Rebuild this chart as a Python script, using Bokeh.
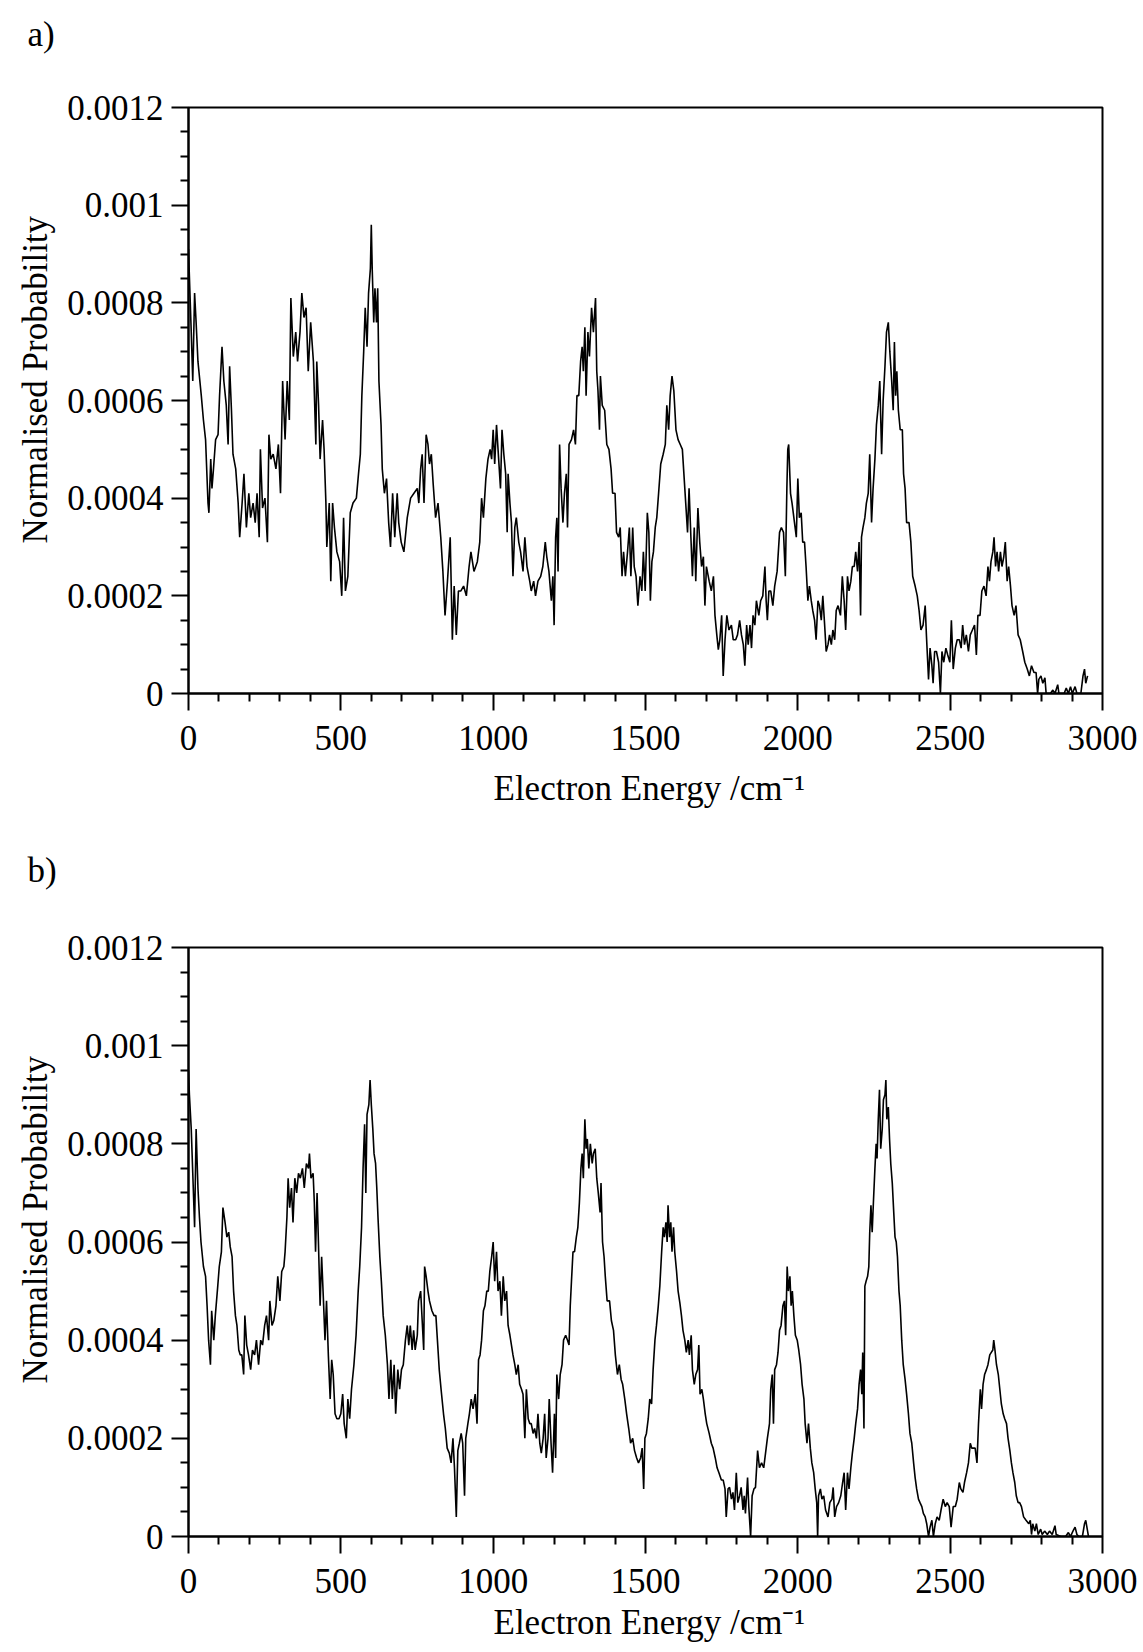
from bokeh.plotting import figure
from bokeh.layouts import column
from bokeh.models import Range1d, FixedTicker, CustomJSTickFormatter, Title
from bokeh.embed import file_html
from bokeh.resources import INLINE

# ---------------- data (probability values in units of 1e-4) ----------------
energy_a = [
    0, 1, 9, 14, 20, 25, 31, 42, 49, 56,
    64, 67, 73, 77, 82, 89, 97, 102, 110, 116,
    124, 130, 135, 141, 146, 155, 163, 168, 176, 182,
    190, 198, 204, 212, 219, 225, 232, 236, 243, 251,
    259, 264, 270, 278, 287, 295, 302, 309, 317, 324,
    331, 336, 344, 352, 358, 366, 372, 379, 386, 393,
    401, 410, 418, 421, 427, 432, 440, 445, 451, 454,
    462, 467, 473, 479, 487, 496, 503, 509, 515, 523,
    531, 540, 551, 558, 564, 569, 575, 580, 586, 591,
    597, 600, 603, 608, 612, 617, 621, 625, 632, 636,
    643, 650, 657, 663, 670, 677, 685, 690, 698, 707,
    718, 729, 740, 751, 756, 762, 767, 773, 780, 786,
    791, 797, 803, 811, 819, 828, 835, 842, 850, 859,
    866, 872, 879, 886, 894, 903, 912, 921, 927, 937,
    948, 956, 962, 968, 976, 983, 990,
    995, 1000, 1005, 1011, 1016, 1024, 1029, 1035, 1041, 1046,
    1049, 1055, 1060, 1065, 1071, 1076, 1084, 1090, 1098, 1104,
    1111, 1120, 1125, 1133, 1139, 1147, 1156, 1163, 1171, 1176,
    1183, 1191, 1196, 1200, 1205, 1209, 1213, 1218, 1223, 1229,
    1234, 1240, 1244, 1249, 1257, 1264, 1270, 1275, 1281, 1287,
    1292, 1296, 1301, 1305, 1311, 1316, 1323, 1329, 1336, 1340,
    1344, 1349, 1352, 1358, 1366, 1373, 1380, 1387, 1392, 1400,
    1405, 1412, 1417, 1423, 1428, 1434, 1441, 1447, 1452, 1458,
    1463, 1469, 1475, 1482, 1488, 1493, 1499, 1506, 1511, 1516,
    1521, 1526, 1532, 1537, 1543, 1550, 1558, 1565, 1570, 1576,
    1581, 1587, 1593, 1600, 1607, 1614, 1621, 1627, 1632, 1638,
    1643, 1649, 1654, 1660, 1665, 1672, 1678, 1684, 1690, 1695,
    1700, 1709, 1716, 1723, 1728, 1734, 1739, 1744, 1750, 1755,
    1761, 1767, 1774, 1782, 1788, 1796, 1802, 1809, 1815, 1821,
    1826, 1832, 1837, 1843, 1848, 1853, 1859, 1864, 1872, 1878,
    1885, 1892, 1896, 1900, 1905, 1911, 1918, 1924, 1932, 1940,
    1946, 1953, 1959, 1964,
    1967, 1970, 1976, 1981, 1989, 1995, 2000, 2005, 2011, 2016,
    2022, 2027, 2033, 2038, 2044, 2049, 2055, 2060, 2066, 2071,
    2077, 2082, 2088, 2093, 2099, 2104, 2110, 2115, 2121, 2126,
    2132, 2140, 2146, 2152, 2157, 2163, 2168, 2174, 2179, 2185,
    2190, 2196, 2201, 2206, 2209, 2214, 2220, 2225, 2231, 2236,
    2242, 2247, 2253, 2258, 2264, 2269, 2275, 2280, 2286, 2291,
    2297, 2302, 2308, 2313, 2317, 2321, 2325, 2330, 2336, 2343,
    2347, 2352, 2357, 2365, 2371, 2377, 2385, 2392, 2398, 2404,
    2411, 2418, 2422, 2429, 2434, 2440, 2444, 2449, 2455, 2462,
    2468, 2473, 2479, 2486, 2492, 2499, 2504, 2510, 2517, 2523,
    2530, 2536, 2541, 2547, 2553, 2560, 2566, 2573, 2580, 2586,
    2591, 2598, 2604, 2611, 2618, 2624, 2629, 2634, 2640, 2644,
    2649, 2654, 2659, 2665, 2670, 2676, 2681, 2687, 2692, 2698,
    2703, 2710, 2716, 2723, 2730, 2738, 2745, 2753, 2760, 2767,
    2775, 2782, 2787, 2791, 2798, 2804, 2811, 2815, 2829, 2837,
    2844, 2853, 2857, 2874, 2881, 2888, 2895, 2901, 2910, 2916,
    2929, 2936, 2941, 2945, 2951,
]
prob_a_e4 = [
    9.1, 8.9, 7.4, 6.4, 8.2, 7.6, 6.8, 6.1, 5.6, 5.2,
    3.9, 3.7, 4.8, 4.2, 4.6, 5.2, 5.3, 6.1, 7.1, 6.4,
    5.9, 5.1, 6.7, 5.8, 4.9, 4.6, 3.9, 3.2, 3.9, 4.5,
    3.4, 4.1, 3.6, 3.9, 3.5, 4.1, 3.2, 5.0, 3.8, 4.0,
    3.1, 5.3, 4.8, 4.9, 4.6, 5.1, 4.1, 6.4, 5.2, 6.4,
    5.6, 8.1, 6.9, 7.4, 6.8, 7.4, 8.2, 7.7, 7.9, 6.6,
    7.6, 6.8, 5.1, 6.8, 5.9, 4.8, 5.6, 5.0, 3.9, 3.0,
    3.9, 2.3, 3.9, 3.4, 2.9, 2.7, 2.0, 3.6, 2.1, 2.4,
    3.7, 3.9, 4.0, 4.5, 4.9, 6.1, 7.0, 7.9, 7.1, 8.2,
    8.7, 9.6, 8.7, 7.6, 8.3, 7.6, 8.3, 6.4, 5.5, 4.6,
    4.1, 4.4, 3.5, 3.0, 4.1, 3.2, 4.1, 3.5, 3.1, 2.9,
    3.6, 4.0, 4.1, 4.2, 3.9, 4.6, 4.9, 3.9, 5.3, 5.1,
    4.7, 4.9, 4.3, 3.6, 3.9, 3.2, 2.5, 1.6, 2.3, 3.2,
    1.1, 2.2, 1.2, 2.1, 2.1, 2.2, 2.0, 2.6, 2.9, 2.5,
    2.7, 3.1, 4.0, 3.6, 4.4, 4.8, 5.0,
    4.8, 5.4, 4.7, 5.5, 5.0, 4.2, 5.4, 4.9, 4.5, 3.3,
    4.5, 3.9, 3.5, 2.4, 3.4, 3.6, 3.1, 2.9, 2.5, 3.2,
    2.6, 2.3, 2.1, 2.3, 2.0, 2.3, 2.4, 2.6, 3.1, 2.8,
    2.5, 1.9, 2.4, 1.4, 3.2, 3.6, 2.5, 5.1, 4.2, 3.5,
    4.1, 4.5, 3.4, 5.1, 5.2, 5.4, 5.1, 6.1, 6.1, 6.8,
    7.1, 6.6, 7.5, 6.1, 7.4, 6.9, 7.9, 7.4, 8.1, 6.6,
    6.2, 5.4, 6.5, 5.9, 5.8, 5.1, 5.0, 4.6, 4.1, 4.1,
    3.3, 3.2, 3.4, 2.4, 2.9, 2.4, 2.9, 3.4, 2.4, 3.4,
    2.6, 2.4, 1.8, 2.4, 2.1, 2.9, 2.1, 3.7, 3.3, 1.9,
    2.7, 2.9, 3.4, 3.6, 4.1, 4.7, 4.9, 5.1, 5.9, 5.4,
    6.1, 6.5, 6.2, 5.4, 5.2, 5.1, 5.0, 4.4, 3.9, 3.3,
    4.2, 3.2, 2.4, 3.4, 2.3, 3.8, 3.1, 2.6, 2.8, 1.8,
    2.6, 2.3, 2.1, 2.4, 1.6, 1.2, 0.9, 1.1, 1.6, 0.36,
    1.1, 1.6, 1.3, 1.4, 1.1, 1.1, 1.2, 1.5, 1.2, 1.0,
    0.57, 1.4, 1.0, 1.4, 0.93, 1.6, 1.4, 1.9, 1.6, 1.9,
    2.0, 2.6, 1.9, 1.5, 2.1, 2.1, 1.8, 2.2, 2.5, 3.3,
    3.4, 3.3, 2.4, 4.2,
    5.0, 5.1, 4.1, 3.9, 3.5, 3.2, 4.4, 3.6, 3.7, 3.1,
    3.1, 2.6, 1.9, 2.2, 1.9, 1.7, 1.5, 1.1, 1.9, 1.8,
    1.5, 2.0, 1.4, 0.86, 1.0, 1.2, 1.0, 1.3, 1.1, 1.7,
    1.8, 1.6, 2.4, 1.9, 1.3, 2.4, 2.1, 2.3, 2.6, 2.6,
    2.9, 2.5, 3.1, 1.6, 3.2, 3.4, 3.6, 3.9, 4.1, 4.9,
    3.5, 4.2, 4.8, 5.5, 5.9, 6.4, 4.9, 6.0, 6.7, 7.4,
    7.6, 7.0, 6.4, 5.8, 7.2, 6.1, 6.6, 5.8, 5.4, 5.4,
    4.5, 4.2, 3.5, 3.5, 3.1, 2.4, 2.2, 2.0, 1.7, 1.3,
    1.4, 1.8, 1.2, 0.29, 0.93, 0.57, 0.21, 0.86, 0.86, 0.64,
    0.0, 0.86, 0.64, 0.93, 0.79, 0.64, 1.5, 0.5, 0.93, 1.1,
    1.1, 0.93, 1.4, 1.0, 1.2, 0.86, 1.2, 1.3, 1.4, 0.79,
    1.6, 1.6, 2.1, 2.2, 2.0, 2.6, 2.3, 2.7, 2.9, 3.2,
    2.6, 2.9, 2.5, 2.9, 2.6, 2.8, 3.1, 2.3, 2.6, 2.2,
    1.8, 1.6, 1.8, 1.2, 1.1, 0.86, 0.64, 0.5, 0.36, 0.57,
    0.43, 0.43, 0.0, 0.29, 0.36, 0.21, 0.32, 0.0, 0.0, 0.07,
    0.0, 0.18, 0.0, 0.0, 0.11, 0.0, 0.14, 0.0, 0.14, 0.0,
    0.0, 0.36, 0.5, 0.21, 0.36,
]

energy_b = [
    0, 3, 9, 14, 20, 25, 31, 36, 41, 49,
    56, 61, 66, 72, 76, 83, 88, 96, 101, 108,
    113, 120, 126, 132, 137, 143, 148, 154, 159, 165,
    170, 175, 181, 185, 191, 197, 204, 210, 217, 223,
    230, 237, 243, 250, 256, 263, 267, 274, 280, 287,
    293, 300, 306, 313, 317, 323, 327, 332, 338, 343,
    349, 355, 361, 367, 374, 380, 387, 394, 397, 402,
    409, 413, 417, 422, 426, 432, 437, 443, 448, 453,
    459, 465, 470, 475, 481, 487, 494, 500, 506, 511,
    518, 523, 529, 535, 543, 550, 557, 562, 568, 573,
    578, 582, 586, 592, 596, 600, 605, 609, 614, 618,
    622, 628, 633, 639, 646, 653, 658, 664, 669, 675,
    680, 687, 693, 699, 705, 712, 718, 723, 728, 734,
    739, 744, 751, 755, 762, 767, 772, 775, 780, 786,
    791, 799, 806, 812, 817, 823, 829, 837, 843, 849,
    856, 862, 868, 873, 879, 884, 889, 895, 900, 906,
    910, 917, 922, 928, 934, 941, 947, 952, 957, 962,
    968, 973, 979,
    984, 989, 995, 1000, 1005, 1011, 1016, 1022, 1027, 1033,
    1038, 1044, 1049, 1055, 1060, 1065, 1071, 1076, 1082, 1087,
    1093, 1098, 1104, 1109, 1115, 1120, 1125, 1131, 1136, 1142,
    1147, 1153, 1158, 1164, 1169, 1174, 1180, 1184, 1190, 1195,
    1201, 1205, 1209, 1215, 1220, 1226, 1231, 1238, 1244, 1249,
    1253, 1257, 1262, 1267, 1273, 1278, 1283, 1288, 1292, 1296,
    1301, 1305, 1309, 1314, 1319, 1325, 1329, 1335, 1340, 1345,
    1351, 1354, 1359, 1364, 1368, 1374, 1382, 1388, 1395, 1401,
    1408, 1414, 1420, 1425, 1432, 1438, 1445, 1451, 1458, 1464,
    1471, 1477, 1484, 1489, 1494, 1498, 1503, 1509, 1514, 1520,
    1525, 1531, 1536, 1542, 1547, 1553, 1558, 1562, 1567, 1571,
    1574, 1579, 1583, 1587, 1592, 1596, 1602, 1607, 1613, 1618,
    1623, 1629, 1634, 1640, 1644, 1650, 1654, 1660, 1665, 1671,
    1675, 1679, 1685, 1690, 1696, 1701, 1709, 1716, 1722, 1729,
    1735, 1741, 1749, 1755, 1761, 1765, 1771, 1776, 1782, 1787,
    1792, 1798, 1803, 1809, 1814, 1820, 1824, 1828, 1835, 1839,
    1845, 1850, 1856, 1861, 1868, 1874, 1881, 1888, 1894, 1900,
    1907, 1911, 1916, 1920, 1924, 1930, 1935,
    1940, 1945, 1951, 1956, 1960, 1965, 1969, 1974, 1978, 1982,
    1987, 1992, 1998, 2003, 2009, 2014, 2020, 2024, 2030, 2035,
    2041, 2046, 2052, 2057, 2062, 2065, 2068, 2074, 2079, 2085,
    2091, 2099, 2105, 2112, 2116, 2121, 2127, 2134, 2141, 2147,
    2152, 2157, 2163, 2168, 2174, 2179, 2185, 2190, 2196, 2201,
    2206, 2210, 2213, 2217, 2220, 2224, 2229, 2233, 2236, 2240,
    2244, 2248, 2253, 2257, 2260, 2264, 2268, 2272, 2277, 2281,
    2286, 2289, 2292, 2297, 2301, 2305, 2310, 2314, 2319, 2323,
    2327, 2332, 2336, 2341, 2346, 2352, 2357, 2363, 2368, 2374,
    2380, 2385, 2390, 2396, 2401, 2407, 2412, 2418, 2423, 2429,
    2434, 2440, 2445, 2451, 2457, 2464, 2470, 2477, 2484, 2490,
    2497, 2503, 2510, 2517, 2523, 2530, 2535, 2542, 2547, 2554,
    2560, 2566, 2571, 2577, 2582, 2588, 2593, 2599, 2603, 2608,
    2613, 2619, 2624, 2630, 2635, 2640, 2643, 2647, 2652, 2658,
    2663, 2668, 2674, 2679, 2685, 2690, 2696, 2701, 2706, 2712,
    2717, 2723, 2728, 2734, 2741, 2749, 2758, 2763, 2767, 2771,
    2778, 2783, 2789, 2797, 2802, 2810, 2819, 2826, 2835, 2844,
    2848, 2863, 2879, 2888, 2895, 2903, 2910, 2916, 2923, 2934,
    2941, 2945, 2951, 2954,
]
prob_b_e4 = [
    9.5, 9.0, 8.3, 7.4, 6.3, 8.3, 7.1, 6.5, 6.0, 5.5,
    5.3, 4.7, 4.0, 3.5, 4.6, 4.0, 4.5, 5.1, 5.5, 5.8,
    6.7, 6.4, 6.1, 6.2, 5.9, 5.7, 5.0, 4.5, 4.3, 3.8,
    3.7, 3.7, 3.3, 4.5, 3.9, 3.7, 3.4, 3.8, 3.7, 4.0,
    3.5, 4.0, 3.9, 4.3, 4.5, 4.0, 4.8, 4.3, 4.4, 4.7,
    5.3, 4.8, 5.4, 5.5, 5.8, 6.5, 7.3, 6.7, 7.1, 6.4,
    7.3, 7.0, 7.4, 7.3, 7.5, 7.1, 7.6, 7.5, 7.8, 7.3,
    7.4, 6.8, 5.8, 7.0, 6.1, 4.7, 5.7, 4.8, 4.0, 4.8,
    3.7, 2.8, 3.6, 3.3, 2.5, 2.4, 2.4, 2.5, 2.9, 2.3,
    2.0, 2.8, 2.4, 3.0, 3.5, 4.1, 5.0, 5.5, 6.3, 7.5,
    8.4, 7.0, 8.6, 8.8, 9.3, 8.8, 8.3, 7.8, 7.6, 7.1,
    6.5, 5.7, 5.2, 4.5, 4.1, 3.5, 2.8, 3.6, 2.8, 3.5,
    2.5, 3.4, 3.0, 3.4, 3.5, 4.0, 4.3, 3.9, 4.3, 3.8,
    4.2, 3.8, 4.1, 4.8, 5.0, 4.4, 3.8, 5.5, 5.3, 5.0,
    4.8, 4.6, 4.5, 4.5, 4.0, 3.4, 3.0, 2.5, 2.2, 1.8,
    1.7, 1.5, 2.0, 1.4, 0.4, 1.75, 1.9, 2.1, 1.9, 0.83,
    2.0, 2.3, 2.5, 2.8, 2.6, 2.9, 2.3, 3.6, 3.7, 4.0,
    4.6, 4.7, 5.0,
    5.0, 5.4, 5.7, 6.0, 5.2, 5.8, 5.0, 5.2, 4.5, 5.3,
    4.8, 5.0, 4.3, 4.1, 3.9, 3.7, 3.5, 3.3, 3.5, 3.1,
    3.0, 2.9, 2.0, 3.0, 2.4, 2.3, 2.3, 2.1, 2.2, 2.0,
    2.5, 1.9, 1.7, 2.0, 2.5, 1.6, 2.0, 2.8, 1.9, 1.3,
    2.5, 1.6, 3.3, 2.8, 3.3, 3.5, 4.0, 4.1, 4.0, 3.9,
    4.7, 5.2, 5.8, 5.8, 6.1, 6.3, 6.8, 7.5, 7.8, 7.3,
    8.5, 7.9, 8.1, 7.5, 8.0, 7.6, 7.8, 7.9, 7.3, 7.0,
    6.6, 7.2, 6.0, 5.7, 5.3, 4.8, 4.8, 4.4, 4.2, 3.7,
    3.3, 3.5, 3.2, 3.1, 2.8, 2.5, 2.2, 1.9, 2.0, 1.75,
    1.6, 1.5, 1.6, 1.8, 0.97, 2.0, 2.1, 2.4, 2.8, 2.7,
    3.4, 4.0, 4.3, 4.7, 5.1, 5.8, 6.3, 6.1, 6.4, 6.0,
    6.75, 6.1, 6.4, 5.8, 6.3, 5.8, 5.4, 5.0, 4.75, 4.5,
    4.2, 4.0, 3.75, 4.0, 3.7, 4.1, 3.4, 3.1, 3.3, 3.4,
    3.9, 2.9, 3.0, 2.8, 2.5, 2.3, 2.1, 1.9, 1.8, 1.6,
    1.4, 1.3, 1.15, 1.15, 0.97, 0.4, 0.97, 1.0, 0.76, 0.9,
    0.54, 1.3, 0.69, 0.83, 1.0, 0.54, 0.83, 0.47, 1.2, 0.61,
    0.0, 0.83, 0.97, 1.0, 1.75, 1.4, 1.5, 1.4, 1.7, 2.0,
    2.3, 3.0, 3.3, 2.3, 3.4, 3.5, 3.75,
    4.2, 4.3, 4.7, 4.8, 4.1, 5.5, 5.0, 5.3, 4.7, 5.0,
    4.5, 4.1, 4.0, 3.8, 3.5, 3.1, 2.8, 2.3, 1.9, 2.3,
    1.8, 1.5, 1.3, 0.97, 0.69, 0.0, 0.83, 0.97, 0.76, 0.83,
    0.54, 0.4, 0.69, 0.76, 1.0, 0.4, 0.61, 0.69, 0.83, 1.1,
    1.3, 0.54, 1.3, 0.97, 1.4, 1.7, 2.0, 2.3, 2.6, 3.1,
    3.4, 2.9, 3.75, 2.2, 5.1, 5.2, 5.3, 5.5, 6.2, 6.75,
    6.2, 6.8, 7.5, 8.0, 7.7, 8.5, 9.1, 7.9, 8.3, 8.9,
    9.0, 9.3, 8.5, 8.75, 8.1, 7.6, 7.2, 6.7, 6.1, 6.0,
    5.7, 5.0, 4.7, 4.0, 3.5, 3.2, 2.9, 2.5, 2.1, 1.9,
    1.5, 1.2, 0.97, 0.76, 0.69, 0.61, 0.47, 0.4, 0.26, 0.0,
    0.19, 0.33, 0.0, 0.26, 0.4, 0.33, 0.54, 0.76, 0.61, 0.69,
    0.61, 0.19, 0.61, 0.61, 0.76, 1.1, 0.97, 0.9, 1.1, 1.3,
    1.5, 1.9, 1.8, 1.8, 1.8, 1.5, 2.3, 3.0, 2.6, 3.1,
    3.3, 3.4, 3.5, 3.7, 3.75, 3.8, 4.0, 3.8, 3.5, 3.3,
    3.0, 2.7, 2.5, 2.4, 2.3, 2.0, 1.75, 1.5, 1.3, 1.1,
    0.83, 0.69, 0.69, 0.61, 0.4, 0.33, 0.26, 0.33, 0.04, 0.26,
    0.11, 0.26, 0.04, 0.15, 0.04, 0.11, 0.04, 0.11, 0.04, 0.22,
    0.04, 0.0, 0.0, 0.08, 0.0, 0.11, 0.19, 0.04, 0.0, 0.0,
    0.26, 0.33, 0.11, 0.0,
]

x_major_ticks = [0, 500, 1000, 1500, 2000, 2500, 3000]
y_major_ticks = [0, 0.0002, 0.0004, 0.0006, 0.0008, 0.001, 0.0012]
X_MAX = 3000
Y_MAX = 0.0012

assert len(energy_a) == len(prob_a_e4), (len(energy_a), len(prob_a_e4))
assert len(energy_b) == len(prob_b_e4), (len(energy_b), len(prob_b_e4))

prob_a = [v * 1e-4 for v in prob_a_e4]
prob_b = [v * 1e-4 for v in prob_b_e4]

SERIF = "Liberation Serif"
x_minor_ticks = [t for t in range(0, 3001, 100) if t % 500 != 0]
y_minor_ticks = [k * 0.00005 for k in range(0, 25) if k % 4 != 0]


def make_panel(energy, prob, tag, left, right, top, bottom, fw, fh,
               tag_offset, tag_standoff, ylab_offset, ylab_standoff,
               xlab_offset, xlab_standoff):
    p = figure(frame_width=fw, frame_height=fh,
               min_border_left=left, min_border_right=right,
               min_border_top=top, min_border_bottom=bottom,
               x_range=Range1d(0, X_MAX), y_range=Range1d(0, Y_MAX),
               output_backend="svg", toolbar_location=None)
    p.line(energy, prob, line_color="black", line_width=1.6)

    p.grid.visible = False
    p.outline_line_color = "black"
    p.outline_line_width = 2
    p.outline_line_alpha = 1.0
    p.background_fill_color = "white"
    p.border_fill_color = "white"

    p.xaxis.ticker = FixedTicker(ticks=x_major_ticks, minor_ticks=x_minor_ticks)
    p.yaxis.ticker = FixedTicker(ticks=y_major_ticks, minor_ticks=y_minor_ticks)
    p.yaxis.formatter = CustomJSTickFormatter(
        code="return tick == 0 ? '0' : String(parseFloat(tick.toPrecision(4)));")

    for ax in (p.xaxis, p.yaxis):
        ax.axis_line_width = 2
        ax.axis_line_color = "black"
        ax.major_tick_in = 0
        ax.major_tick_out = 17
        ax.minor_tick_in = 0
        ax.minor_tick_out = 8
        ax.major_tick_line_width = 2
        ax.minor_tick_line_width = 2
        ax.major_tick_line_color = "black"
        ax.minor_tick_line_color = "black"
        ax.major_label_text_font = SERIF
        ax.major_label_text_font_size = "35px"
        ax.major_label_text_color = "black"
    p.xaxis.major_label_standoff = 15
    p.yaxis.major_label_standoff = 8

    # panel tag "a)" / "b)" in the top-left corner (second line keeps it high)
    p.title.text = tag + "\n\u00a0"
    p.title.align = "left"
    p.title.vertical_align = "top"
    p.title.offset = tag_offset
    p.title.standoff = tag_standoff
    p.title.text_font = SERIF
    p.title.text_font_size = "35px"
    p.title.text_font_style = "normal"
    p.title.text_color = "black"

    p.add_layout(Title(text="Normalised Probability", align="left", offset=ylab_offset,
                       standoff=ylab_standoff, text_font=SERIF, text_font_size="35px",
                       text_font_style="normal", text_color="black"), "left")
    p.add_layout(Title(text="Electron Energy /cm\u207b\u00b9", align="left",
                       vertical_align="top", offset=xlab_offset, standoff=xlab_standoff,
                       text_font=SERIF, text_font_size="35px",
                       text_font_style="normal", text_color="black"), "below")
    return p


pa = make_panel(energy_a, prob_a, "a)", left=183, right=46, top=107, bottom=133,
                fw=914, fh=586, tag_offset=-161, tag_standoff=26,
                ylab_offset=150, ylab_standoff=20, xlab_offset=305, xlab_standoff=32)
pb = make_panel(energy_b, prob_b, "b)", left=188, right=41, top=121, bottom=116,
                fw=914, fh=589, tag_offset=-161, tag_standoff=34,
                ylab_offset=153, ylab_standoff=20, xlab_offset=305, xlab_standoff=15)

layout = column(pa, pb, spacing=0)
open("out.html", "w").write(file_html(layout, INLINE))
